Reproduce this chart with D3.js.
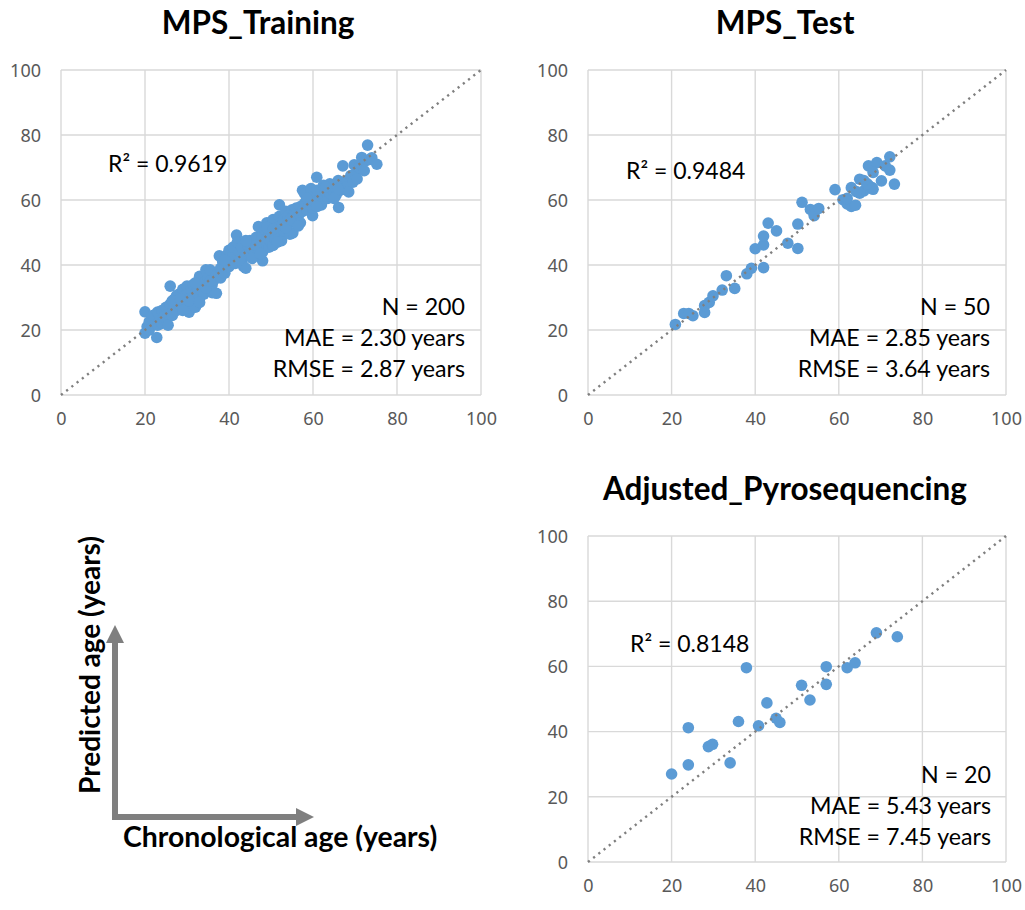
<!DOCTYPE html>
<html><head><meta charset="utf-8">
<script src="https://cdn.jsdelivr.net/npm/d3@7"></script>
<style>
html,body{margin:0;padding:0;background:#fff;}
svg{display:block;}
</style></head>
<body>
<svg id="chart" width="1025" height="910"></svg>
<script>
// ---------------- DATA ----------------
const panelTitles = ["MPS_Training", "MPS_Test", "Adjusted_Pyrosequencing"];
const tickValues = [0, 20, 40, 60, 80, 100];
const r2Labels = ["R\u00B2 = 0.9619", "R\u00B2 = 0.9484", "R\u00B2 = 0.8148"];
const nLabels = ["N = 200", "N = 50", "N = 20"];
const maeLabels = ["MAE = 2.30 years", "MAE = 2.85 years", "MAE = 5.43 years"];
const rmseLabels = ["RMSE = 2.87 years", "RMSE = 3.64 years", "RMSE = 7.45 years"];
const xAxisLabel = "Chronological age (years)";
const yAxisLabel = "Predicted age (years)";

// [chronological age, predicted age]
const trainPoints = [
 [20,19],[20,25.6],[20.5,21],[21,22.5],[21,20],
 [22,23],[22,24.5],[22.8,17.7],[23,21.5],[23,25.5],[23.5,23],
 [24,22],[24,26],[24.5,24],[25,23.5],[25,27],[25.5,21.5],[25.5,25],
 [26,33.5],[26,28],[26.5,24.5],[27,27],[27,29.5],[27.5,26],[27.5,30.5],
 [28,28],[28,31],[28.5,27.5],[29,32.5],[29,29],[29.5,26.5],[29.5,30.5],[30,28],[30,33.5],[30,31],
 [30.5,25.5],[31,30],[31,32.5],[31.5,28.5],[31.5,34],[32,31],[32,27],[32.5,33],[33,30],[33,36.5],[33.5,32],
 [34,34.5],[34,31],[34.5,38.5],[35,33],[35,36],[35.5,38.5],[36,34],[36,31.5],[36.5,35.5],[37,31.3],[37,37],
 [37.7,42.8],[38,36],[38,39],[38.5,41],[39,37.5],[39,40],[39.5,43],[40,39.5],[40,42],[40,44.5],
 [40.5,41],[41,43],[41,45.5],[41.5,40.5],[41.8,49.2],[42,42],[42,47],[42.5,44],[43,41],[43,45.5],[43.5,39.5],[44,39],[44,43],[44.5,46],
 [45,44],[45,47.5],[45.5,45],[46,46.5],[46,43],[46.5,48.5],[47,51.8],[47,45],[47.5,47],[48,41.3],[48,44],[48,49],[48.5,46],[48.5,51],
 [49,48],[49,53],[49.5,45.5],[49.5,50],[50,52],[50,47],[50,49.5],[50.5,54],[50.5,46],[51,50.5],[51,48],[51,53.5],[51.5,51.5],[52,58.5],[52,49],[52,55],[52.5,52],[52.5,47.5],
 [53,54],[53,50.5],[53.5,56.5],[54,52.5],[54,55],[54.5,49.5],[55,57],[55,53.5],[55.2,49.9],[55.5,56],[56,54],[56,57.5],
 [56.5,55],[57,58],[57,53],[57.5,63],[57.5,56.5],[58,59],[58,62],[58.5,57],[59,60.5],[59,58],[59.5,63.5],[59.9,55.2],[60,61],[60,57.5],[60.5,59.5],
 [60.9,67],[61,63],[61.5,60],[62,62],[62,58.5],[62.5,64.5],[63,62.5],[63.5,60.5],[64,65],[64,62],[64.5,63.5],[65,64],[65.5,61.5],[66,66],[66.1,57.7],[66.5,63],
 [67,65],[67.1,70.5],[67.5,63.5],[68,66],[68,64],[68.5,62.5],[69,67.5],[69.5,65.5],[69.8,70.8],[70,68],[70.5,66.5],[71,70],[71.6,73.1],[72.2,69],[72.5,72],[73,76.9],[73.5,72.5],[74,73],[75.2,71],
 [26.5,29],[28.5,29.5],[29,26],[30.5,29],[32,34.5],[33,28.5],[34.5,33],[35.5,35],[39,41.5],[42.5,41.5],
 [44,47.5],[45.5,42],[46.5,46],[47.5,43.5],[49,51.5],[50.5,51],[51.5,47],[53.5,51.5],[54.5,54],[56.5,52],
 [58.5,60.5],[61,58],[63,64],[65,60.5],[66,63.5]
];

const testPoints = [
 [20.9,21.7],[22.9,25.1],[24.1,25.1],[25.1,24.4],[27.9,25.4],[27.9,27.5],[29.0,28.5],[29.9,30.5],[32.1,32.3],[33.1,36.7],
 [35.1,32.8],[38.0,37.3],[39.1,39.0],[40.0,45.0],[42.0,46.2],[42.0,48.9],[42.0,39.2],[43.1,52.9],[45.1,50.5],[47.8,46.7],
 [50.2,45.1],[50.2,52.6],[51.2,59.3],[53.2,57.1],[54.1,55.2],[55.2,57.4],[59.1,63.2],[61.0,60.1],[62.0,58.8],[63.0,58.0],
 [64.0,58.4],[63.0,63.8],[65.0,66.4],[66.0,62.8],[67.0,64.5],[65.0,62.1],[68.0,63.8],[68.2,63.3],[67.1,70.5],[69.1,71.5],
 [68.2,68.5],[70.2,65.9],[71.1,70.5],[72.2,69.2],[72.2,73.3],[73.3,64.9],[64.2,62.6],[62.0,60.5],[66.8,65.0],[66.0,66.0]
];

const pyroPoints = [
 [20,27],[24,41.2],[24,29.8],[28.8,35.4],[29.8,36.1],[34,30.4],[36,43.1],[37.9,59.6],[40.8,41.8],[42.8,48.8],
 [45,44.1],[45.9,42.8],[51.1,54.2],[53.1,49.7],[57,59.9],[57,54.5],[62,59.6],[63.9,61.1],[69,70.3],[74,69.1]
];

// ---------------- LAYOUT ----------------
const panels = [
 {pts: trainPoints, left:61, right:481, top:70, bottom:395, titleX:258, titleY:34,
  r2x:108, r2y:172, statX:465, statY:[315,346,377]},
 {pts: testPoints, left:588, right:1006, top:70, bottom:395, titleX:785, titleY:34,
  r2x:626, r2y:179, statX:990, statY:[315,346,377]},
 {pts: pyroPoints, left:588, right:1006, top:536, bottom:862, titleX:785, titleY:500,
  r2x:630, r2y:652, statX:991, statY:[783,814,845]}
];

const svg = d3.select("#chart");
const FONT = "Lato, 'Open Sans', sans-serif";
const TICKFONT = "'Noto Sans', 'Open Sans', sans-serif";
const ptColor = "#5B9BD5";
const gridColor = "#D9D9D9";

panels.forEach((p, i) => {
  const x = d3.scaleLinear().domain([0, 100]).range([p.left, p.right]);
  const y = d3.scaleLinear().domain([0, 100]).range([p.bottom, p.top]);
  const g = svg.append("g");

  // gridlines
  g.append("g").selectAll("line").data(tickValues).join("line")
    .attr("x1", d => x(d)).attr("x2", d => x(d))
    .attr("y1", p.top).attr("y2", p.bottom)
    .attr("stroke", gridColor).attr("stroke-width", 1.4);
  g.append("g").selectAll("line").data(tickValues).join("line")
    .attr("y1", d => y(d)).attr("y2", d => y(d))
    .attr("x1", p.left).attr("x2", p.right)
    .attr("stroke", gridColor).attr("stroke-width", 1.4);

  // axes (labels only)
  const xAxis = d3.axisBottom(x).tickValues(tickValues).tickSize(0).tickPadding(0);
  const yAxis = d3.axisLeft(y).tickValues(tickValues).tickSize(0).tickPadding(0);
  const gx = g.append("g").attr("transform", `translate(0,${p.bottom + 17})`).call(xAxis);
  const gy = g.append("g").attr("transform", `translate(${p.left - 20},0)`).call(yAxis);
  [gx, gy].forEach(ax => {
    ax.select(".domain").remove();
    ax.selectAll("text").attr("font-family", TICKFONT).attr("font-size", 18)
      .attr("fill", "#595959");
  });
  gx.selectAll("text").attr("dy", "0.71em");
  gy.selectAll("text").attr("dy", "0.35em");

  // points
  g.append("g").selectAll("circle").data(p.pts).join("circle")
    .attr("cx", d => x(d[0])).attr("cy", d => y(d[1])).attr("r", 5.8)
    .attr("fill", ptColor);

  // diagonal dotted identity line
  g.append("line")
    .attr("x1", x(0)).attr("y1", y(0)).attr("x2", x(100)).attr("y2", y(100))
    .attr("stroke", "#7F7F7F").attr("stroke-width", 2.4)
    .attr("stroke-dasharray", "2.2,4.4");

  // title
  svg.append("text").attr("x", p.titleX).attr("y", p.titleY)
    .attr("text-anchor", "middle").attr("font-family", FONT)
    .attr("font-weight", "bold").attr("font-size", 31.5).attr("fill", "#000")
    .text(panelTitles[i]);

  // annotations
  svg.append("text").attr("x", p.r2x).attr("y", p.r2y)
    .attr("font-family", FONT).attr("font-size", 23).attr("fill", "#000")
    .text(r2Labels[i]);
  [nLabels[i], maeLabels[i], rmseLabels[i]].forEach((t, k) => {
    svg.append("text").attr("x", p.statX).attr("y", p.statY[k])
      .attr("text-anchor", "end").attr("font-family", FONT)
      .attr("font-size", 23.2).attr("fill", "#000").text(t);
  });
});

// ---------------- AXIS LEGEND (arrows) ----------------
const arrowColor = "#7F7F7F";
const leg = svg.append("g");
leg.append("line").attr("x1", 115).attr("y1", 820).attr("x2", 115).attr("y2", 641)
  .attr("stroke", arrowColor).attr("stroke-width", 6);
leg.append("polygon").attr("points", "106,643 124,643 115,625").attr("fill", arrowColor);
leg.append("line").attr("x1", 112).attr("y1", 817).attr("x2", 298).attr("y2", 817)
  .attr("stroke", arrowColor).attr("stroke-width", 6);
leg.append("polygon").attr("points", "296,808 296,826 314,817").attr("fill", arrowColor);

svg.append("text").attr("x", 123).attr("y", 847)
  .attr("font-family", FONT).attr("font-weight", "bold").attr("font-size", 28.4)
  .attr("fill", "#000").text(xAxisLabel);
svg.append("text").attr("transform", "translate(100,665) rotate(-90)")
  .attr("text-anchor", "middle")
  .attr("font-family", FONT).attr("font-weight", "bold").attr("font-size", 28)
  .attr("fill", "#000").text(yAxisLabel);
</script>
</body></html>
